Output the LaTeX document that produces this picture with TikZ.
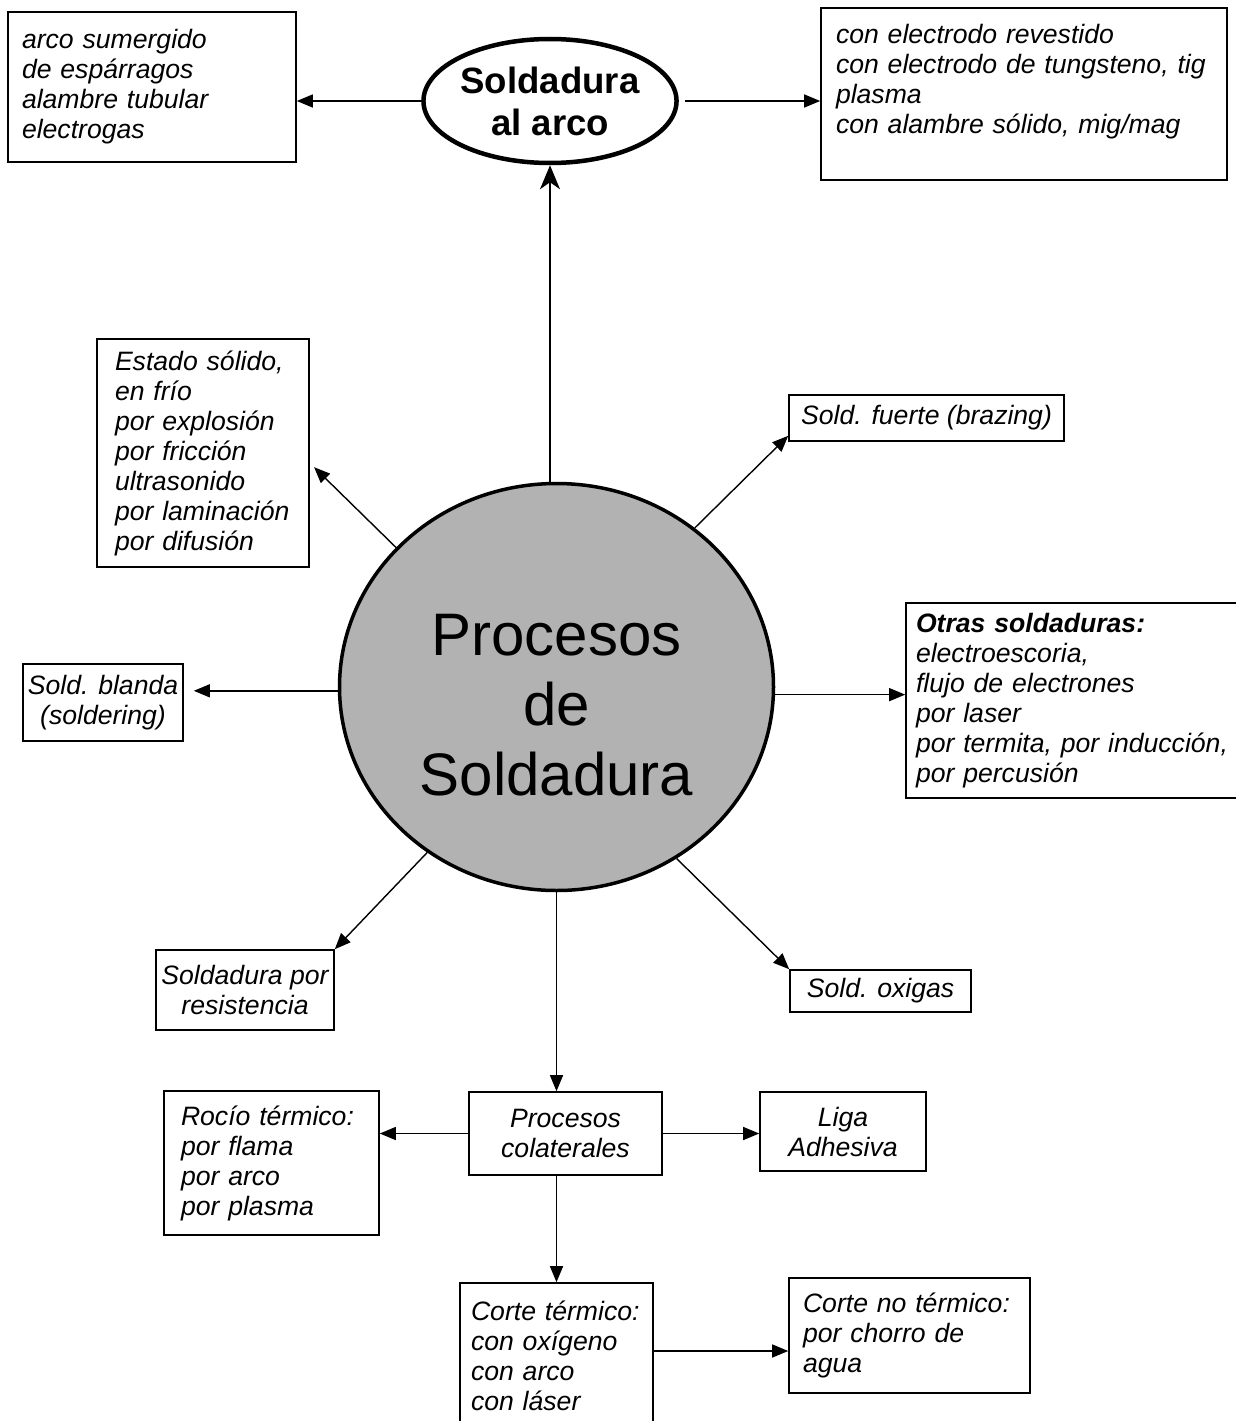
\documentclass[tikz,border=0pt]{standalone}
\usepackage{fontspec}
\setmainfont{Liberation Sans}
\usetikzlibrary{arrows.meta,shapes.geometric}
\definecolor{discgray}{gray}{0.70}
\tikzset{
  box/.style={draw, line width=1.6pt, inner ysep=2pt, font=\fontsize{26.6}{30}\selectfont\itshape},
  lbox/.style={box, align=left},
  cbox/.style={box, align=center},
  arr/.style={line width=1.4pt, -{Triangle[length=16pt,width=13pt]}},
}
\begin{document}
\begin{tikzpicture}[x=1pt,y=-1pt]
\useasboundingbox (0,0) rectangle (1236,1421);
% centre and arc ellipse
\node[ellipse, draw, line width=3.5pt, fill=discgray, minimum width=434, minimum height=407] (disc) at (556.5,687) {};
\node[align=center, font=\fontsize{60}{70}\selectfont] (disctext) at ([yshift=-18pt]disc.center) {Procesos\\de\\Soldadura};
\node[ellipse, draw, line width=4.5pt, inner sep=0pt, minimum width=236, minimum height=124, align=center,
      font=\fontsize{36.6}{42}\selectfont\bfseries] (arc) at (550,101) {Soldadura\\al arco};
% boxes
\node[lbox, inner xsep=14pt, text width=260pt, minimum height=150] (boxA) at (152,87)
  {arco sumergido\\de espárragos\\alambre tubular\\electrogas};
\node[lbox, inner xsep=15pt, text width=376pt, minimum height=172] (boxB) at (1024,94)
  {con electrodo revestido\\con electrodo de tungsteno, tig\\plasma\\con alambre sólido, mig/mag\\ \mbox{}};
\node[lbox, inner xsep=18pt, text width=176pt, minimum height=228] (boxC) at (203,453)
  {Estado sólido,\\en frío\\por explosión\\por fricción\\ultrasonido\\por laminación\\por difusión};
\node[cbox, minimum width=275, minimum height=46] (boxD) at (926.5,418) {Sold. fuerte (brazing)};
\node[lbox, inner xsep=10pt, text width=315pt, minimum height=195] (boxE) at (1073.5,700.5)
  {\textbf{Otras soldaduras:}\\electroescoria,\\flujo de electrones\\por laser\\por termita, por inducción,\\por percusión};
\node[cbox, minimum width=160, minimum height=77] (boxF) at (103,702.5) {Sold. blanda\\(soldering)};
\node[cbox, minimum width=178, minimum height=80] (boxG) at (245,990) {Soldadura por\\resistencia};
\node[cbox, minimum width=181, minimum height=42] (boxH) at (880.5,991) {Sold. oxigas};
\node[cbox, minimum width=193, minimum height=83] (boxI) at (565.5,1133.5) {Procesos\\colaterales};
\node[lbox, inner xsep=17pt, text width=181pt, minimum height=144] (boxJ) at (271.5,1163)
  {Rocío térmico:\\por flama\\por arco\\por plasma};
\node[cbox, minimum width=166, minimum height=79] (boxK) at (843,1131.5) {Liga\\Adhesiva};
\node[lbox, inner xsep=11pt, text width=171pt, minimum height=176] (boxL) at (556.5,1371)
  {Corte térmico:\\con oxígeno\\con arco\\con láser\\ \mbox{}};
\node[lbox, inner xsep=14pt, text width=213pt, minimum height=115] (boxM) at (909.5,1335.5)
  {Corte no térmico:\\por chorro de\\agua};
% connectors
\draw[arr] (arc.west) -- (arc.west -| boxA.east);
\draw[arr, shorten <=6pt] (arc.east) -- (arc.east -| boxB.west);
\draw[line width=1.4pt, -{Stealth[length=24pt,width=20pt,inset=7pt]}] (arc.south |- disc.north) -- (arc.south);
\draw[arr, shorten >=6pt] (disc.139) -- ([yshift=-10pt]boxC.east);
\draw[arr] (disc.49) -- ([yshift=6pt]boxD.south west);
\draw[arr] (disc.-2.5) -- (disc.-2.5 -| boxE.west);
\draw[arr, shorten >=10pt] (disc.181.5) -- (disc.181.5 -| boxF.east);
\draw[arr] (disc.232) -- (boxG.north east);
\draw[arr] (disc.-55) -- (boxH.north west);
\draw[arr] (disc.south) -- (disc.south |- boxI.north);
\draw[arr] (boxI.west) -- (boxI.west -| boxJ.east);
\draw[arr] (boxI.east) -- (boxI.east -| boxK.west);
\draw[arr] (disc.south |- boxI.south) -- (disc.south |- boxL.north);
\draw[arr] ([yshift=20pt]boxL.east) -- ([yshift=20pt]boxL.east -| boxM.west);
\end{tikzpicture}
\end{document}
